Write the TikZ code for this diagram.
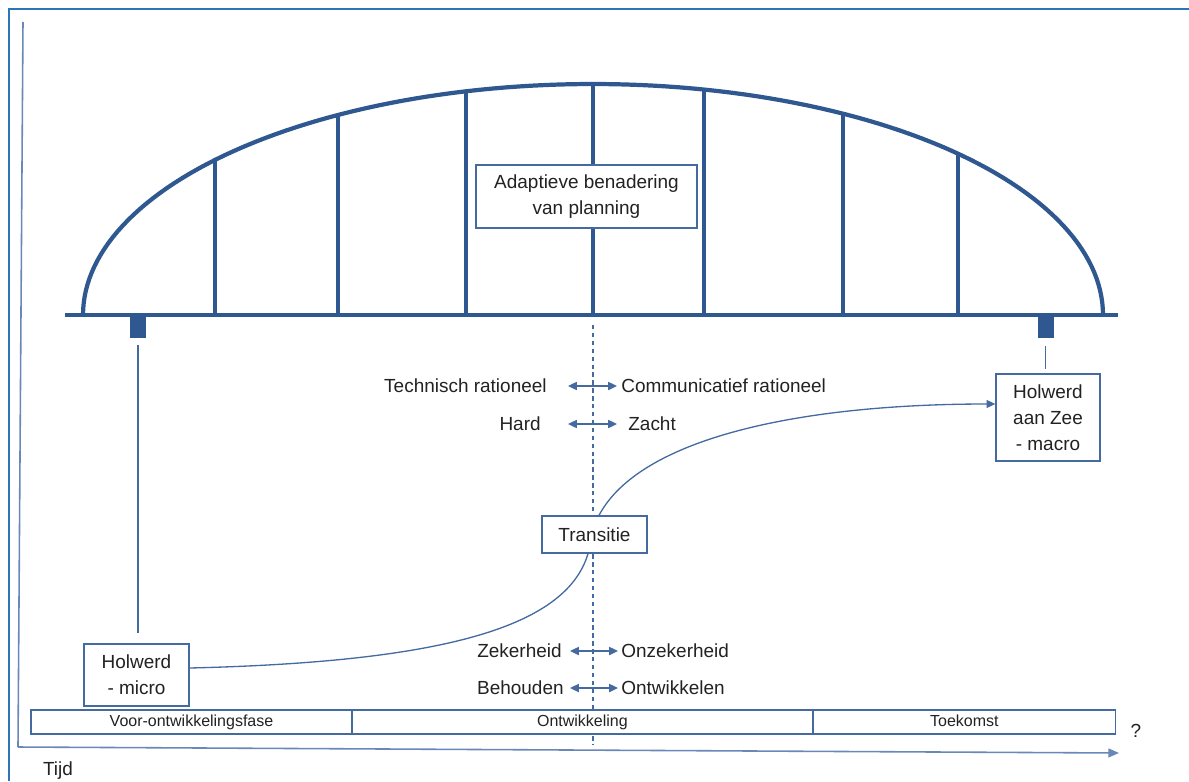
\documentclass[tikz,border=0pt]{standalone}
\usepackage{fontspec}
\setmainfont{Liberation Sans}
\usetikzlibrary{arrows.meta,positioning,calc}
\definecolor{framecol}{RGB}{46,117,182}
\definecolor{bridgecol}{RGB}{47,88,145}
\definecolor{linecol}{RGB}{68,106,160}
\definecolor{axiscol}{RGB}{105,135,185}
\definecolor{txtcol}{RGB}{34,34,34}
\tikzset{
    box/.style ={
        shape=rectangle,
        draw=linecol,
        fill=white,
        line width=0.75pt,
        align=center,
        text=txtcol,
        font=\fontsize{10.8}{14.8}\selectfont
    },
    phase/.style ={
        shape=rectangle,
        draw=linecol,
        fill=white,
        line width=0.75pt,
        outer sep=0pt,
        inner ysep=0pt,
        text height=6.8pt,
        text depth=2pt,
        minimum height=0.48cm,
        text=txtcol,
        font=\fontsize{9.1}{11}\selectfont
    },
    pier/.style ={
        shape=rectangle,
        fill=bridgecol,
        inner sep=0pt,
        minimum width=0.32cm,
        minimum height=0.46cm
    },
    lbl/.style ={
        inner sep=0pt,
        text=txtcol,
        font=\fontsize{10.8}{13}\selectfont
    },
    link/.style ={
        draw=linecol,
        line width=0.75pt
    },
    twoway/.style ={
        draw=linecol,
        line width=0.8pt,
        {Triangle[length=5pt,width=4.6pt]}-{Triangle[length=5pt,width=4.6pt]}
    }
}

\begin{document}
\begin{tikzpicture}[x=0.02cm,y=-0.02cm]
    \useasboundingbox (0,0) rectangle (1189,781);
    % frame and axes
    \draw[framecol,line width=1.7pt] (9,781) -- (9,9) -- (1189,9);
    \coordinate (origin) at (18,747);
    \coordinate (ytop) at (23,22);
    \coordinate (xend) at (1119,753);
    \draw[axiscol,line width=0.9pt] (ytop) -- (origin);
    \draw[axiscol,line width=0.9pt,-{Triangle[length=6pt,width=5pt]}] (origin) -- (xend);

    % bridge
    \draw[bridgecol,line width=2.4pt] plot[domain=0:180,samples=120] ({593+510*cos(\x)},{315-231*sin(\x)});
    \foreach \vx in {215,338,466,593,704,843,958}
        \draw[bridgecol,line width=2pt] (\vx,315) -- (\vx,{315-231*sqrt(1-((\vx-593)/510)^2)});
    \coordinate (deckL) at (65,315);
    \coordinate (deckR) at (1118,315);
    \draw[bridgecol,line width=1.9pt] (deckL) -- (deckR);
    \node[pier] (pierL) at (138,326.5) {};
    \node[pier] (pierR) at (1045.5,326.5) {};

    % middle line
    \coordinate (midtop) at (593,325);
    \coordinate (midbot) at (593,745);
    \draw[linecol,line width=0.7pt,dash pattern=on 2.5pt off 2pt] (midtop) -- (midbot);

    % boxes
    \node[box,minimum width=4.42cm,minimum height=1.26cm] (plan) at (586.5,196.5) {Adaptieve benadering\\van planning};
    \node[box,minimum width=2.1cm,minimum height=0.74cm] (trans) at (594.5,534.5) {Transitie};
    \node[box,minimum width=2.1cm,minimum height=1.24cm] (micro) at (136.5,675) {Holwerd\\- micro};
    \node[box,minimum width=2.08cm,minimum height=1.74cm] (zee) at (1048,417.5) {Holwerd\\aan Zee\\- macro};

    \draw[link,shorten <=4pt,shorten >=5.7pt] (pierL.south) -- (pierL.south |- micro.north);
    \draw[link,shorten <=4.5pt,shorten >=2.3pt] (pierR.south) -- (pierR.south |- zee.north);
    \draw[link] ($(micro.east)+(0,-7)$) .. controls (440,662) and (566,628) .. ($(trans.south)+(-6.5,0)$);
    \draw[link,-{Triangle[length=5pt,width=4.5pt]}] ($(trans.north)+(4.5,0)$) .. controls (640,438) and (800,404) .. ($(zee.west)+(0,-13.5)$);

    % opposites
    \node[lbl,anchor=east] (tech) at (547,386) {Technisch rationeel};
    \node[lbl,anchor=west] (comm) at (621,386) {Communicatief rationeel};
    \node[lbl,anchor=east] (hard) at (541,424) {Hard};
    \node[lbl,anchor=west] (zacht) at (628,424) {Zacht};
    \node[lbl,anchor=east] (zeker) at (562,651) {Zekerheid};
    \node[lbl,anchor=west] (onzeker) at (621,651) {Onzekerheid};
    \node[lbl,anchor=east] (behoud) at (564,688) {Behouden};
    \node[lbl,anchor=west] (ontw) at (621,688) {Ontwikkelen};
    \draw[twoway] (568,386) -- (617,386);
    \draw[twoway] (568,424) -- (617,424);
    \draw[twoway] (570,651) -- (618,651);
    \draw[twoway] (570,688) -- (618,688);

    % phases
    \node[phase,minimum width=6.42cm] (voor) at (191.5,722) {Voor-ontwikkelingsfase};
    \node[phase,minimum width=9.22cm,right=0pt of voor] (ontwik) {Ontwikkeling};
    \node[phase,minimum width=6.06cm,right=0pt of ontwik] (toek) {Toekomst};
    \node[lbl] (vraag) at (1136,731) {?};
    \node[lbl] (tijd) at (58,771) {Tijd};
\end{tikzpicture}
\end{document}
